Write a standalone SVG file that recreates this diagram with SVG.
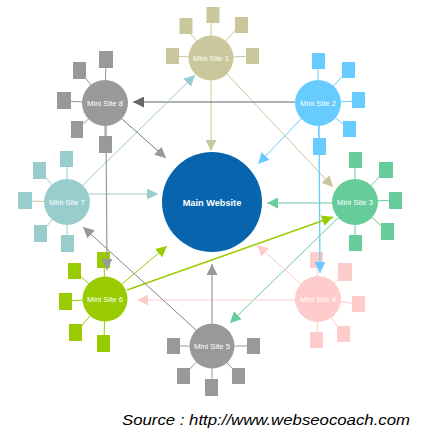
<svg xmlns="http://www.w3.org/2000/svg" width="428" height="431" viewBox="0 0 428 431">
<defs>
<style>
text{font-family:"Liberation Sans",Arial,sans-serif;fill:#fff;stroke:none;text-anchor:middle}
.lbl{font-size:7.7px}
.main{font-size:9.2px;font-weight:bold}
.src{font-size:15px;font-style:italic;fill:#000;text-anchor:start}
.c{fill:none;stroke-width:1}
.s1{fill:#c9c79b;stroke:#c9c79b}
.s2{fill:#66ccff;stroke:#66ccff}
.s3{fill:#66cc99;stroke:#66cc99}
.s4{fill:#ffcccc;stroke:#ffcccc}
.s5{fill:#999;stroke:#999}
.s6{fill:#99cc00;stroke:#99cc00}
.s7{fill:#99cccc;stroke:#99cccc}
.s8{fill:#999;stroke:#999}
.sat{stroke:none}
</style>
<marker id="m1" viewBox="0 0 10 10" refX="10" refY="5" markerWidth="11" markerHeight="11" markerUnits="userSpaceOnUse" orient="auto"><path d="M0,0 L10,5 L0,10 z" fill="#c9c79b"/></marker>
<marker id="m2" viewBox="0 0 10 10" refX="10" refY="5" markerWidth="11" markerHeight="11" markerUnits="userSpaceOnUse" orient="auto"><path d="M0,0 L10,5 L0,10 z" fill="#66ccff"/></marker>
<marker id="m3" viewBox="0 0 10 10" refX="10" refY="5" markerWidth="11" markerHeight="11" markerUnits="userSpaceOnUse" orient="auto"><path d="M0,0 L10,5 L0,10 z" fill="#66cc99"/></marker>
<marker id="m4" viewBox="0 0 10 10" refX="10" refY="5" markerWidth="11" markerHeight="11" markerUnits="userSpaceOnUse" orient="auto"><path d="M0,0 L10,5 L0,10 z" fill="#ffcccc"/></marker>
<marker id="m5" viewBox="0 0 10 10" refX="10" refY="5" markerWidth="11" markerHeight="11" markerUnits="userSpaceOnUse" orient="auto"><path d="M0,0 L10,5 L0,10 z" fill="#999"/></marker>
<marker id="m6" viewBox="0 0 10 10" refX="10" refY="5" markerWidth="11" markerHeight="11" markerUnits="userSpaceOnUse" orient="auto"><path d="M0,0 L10,5 L0,10 z" fill="#99cc00"/></marker>
<marker id="m7" viewBox="0 0 10 10" refX="10" refY="5" markerWidth="11" markerHeight="11" markerUnits="userSpaceOnUse" orient="auto"><path d="M0,0 L10,5 L0,10 z" fill="#99cccc"/></marker>
<marker id="m8" viewBox="0 0 10 10" refX="10" refY="5" markerWidth="11" markerHeight="11" markerUnits="userSpaceOnUse" orient="auto"><path d="M0,0 L10,5 L0,10 z" fill="#666"/></marker>
</defs>
<rect width="428" height="431" fill="#fff"/>

<g id="main-website">
<circle cx="212" cy="202" r="50" fill="#0865ad"/>
<text class="main" x="212" y="205.5">Main Website</text>
</g>

<g id="mini-site-1" class="s1" transform="translate(211,58)">
<path d="M0,0 L0,-43 M0,0 L-27,-32 M0,0 L28,-32 M0,0 L-39,-2 M0,0 L41,-2" stroke-width="1"/>
<rect class="sat" x="-4.5" y="-51" width="13" height="16"/>
<rect class="sat" x="-31.5" y="-40" width="13" height="16"/>
<rect class="sat" x="24" y="-41" width="13" height="16"/>
<rect class="sat" x="-45" y="-10" width="13" height="16"/>
<rect class="sat" x="35" y="-10" width="13" height="16"/>
<circle r="22.5" stroke="none"/>
<text class="lbl" x="0" y="2.8">Mini Site 1</text>
</g>

<g id="mini-site-2" class="s2" transform="translate(318,103)">
<path d="M0,0 L0,-42 M0,0 L30,-33 M0,0 L40,-2 M0,0 L31,26 M0,0 L1,43" stroke-width="1"/>
<rect class="sat" x="-6" y="-50" width="13" height="16"/>
<rect class="sat" x="24" y="-41" width="13" height="16"/>
<rect class="sat" x="34" y="-11" width="13" height="16"/>
<rect class="sat" x="25" y="18" width="13" height="16"/>
<rect class="sat" x="-5" y="35" width="13" height="17"/>
<circle r="23" stroke="none"/>
<text class="lbl" x="0" y="2.8">Mini Site 2</text>
</g>

<g id="mini-site-3" class="s3" transform="translate(355,202)">
<path d="M0,0 L0,-42 M0,0 L31,-32 M0,0 L40,-2 M0,0 L32,29 M0,0 L0,41" stroke-width="1"/>
<rect class="sat" x="-6" y="-50" width="13" height="16"/>
<rect class="sat" x="24" y="-40" width="14" height="16"/>
<rect class="sat" x="34" y="-10" width="13" height="17"/>
<rect class="sat" x="26" y="21" width="13" height="17"/>
<rect class="sat" x="-6" y="33" width="13" height="16"/>
<circle r="23" stroke="none"/>
<text class="lbl" x="0" y="2.8">Mini Site 3</text>
</g>

<g id="mini-site-4" class="s4" transform="translate(318,299)">
<path d="M0,0 L-1,-39 M0,0 L27,-27 M0,0 L40,5 M0,0 L25,35 M0,0 L-1,41" stroke-width="1"/>
<rect class="sat" x="-8" y="-47" width="13" height="16"/>
<rect class="sat" x="20" y="-36" width="14" height="18"/>
<rect class="sat" x="34" y="-3" width="13" height="16"/>
<rect class="sat" x="19" y="27" width="13" height="16"/>
<rect class="sat" x="-8" y="33" width="13" height="16"/>
<circle r="23" stroke="none"/>
<text class="lbl" x="0" y="2.8">Mini Site 4</text>
</g>

<g id="mini-site-5" class="s5" transform="translate(212,346)">
<path d="M0,0 L-39,0 M0,0 L41,0 M0,0 L-29,30 M0,0 L0,41 M0,0 L27,30" stroke-width="1"/>
<rect class="sat" x="-45" y="-8" width="13" height="16"/>
<rect class="sat" x="35" y="-8" width="13" height="16"/>
<rect class="sat" x="-35" y="22" width="13" height="16"/>
<rect class="sat" x="-7" y="33" width="13" height="17"/>
<rect class="sat" x="20" y="22" width="13" height="16"/>
<circle r="22.5" stroke="none"/>
<text class="lbl" x="0" y="2.8">Mini Site 5</text>
</g>

<g id="mini-site-6" class="s6" transform="translate(105,299)">
<path d="M0,0 L-1,-39 M0,0 L-30,-28 M0,0 L-39,2 M0,0 L-29,33 M0,0 L-1,44" stroke-width="1"/>
<rect class="sat" x="-8" y="-47" width="13" height="16"/>
<rect class="sat" x="-37" y="-36" width="13" height="16"/>
<rect class="sat" x="-46" y="-6" width="13" height="17"/>
<rect class="sat" x="-36" y="25" width="13" height="17"/>
<rect class="sat" x="-8" y="36" width="13" height="17"/>
<circle r="22.5" stroke="none"/>
<text class="lbl" x="0" y="2.8">Mini Site 6</text>
</g>

<g id="mini-site-7" class="s7" transform="translate(67,202)">
<path d="M0,0 L0,-43 M0,0 L-27,-31 M0,0 L-26,31 M0,0 L0,41" stroke-width="1"/>
<path d="M0,0 L-42,-1" stroke="#c9c79b" stroke-width="1"/>
<rect class="sat" x="-7" y="-51" width="13" height="16"/>
<rect class="sat" x="-34" y="-40" width="13" height="17"/>
<rect class="sat" x="-49" y="-10" width="14" height="17"/>
<rect class="sat" x="-33" y="23" width="13" height="17"/>
<rect class="sat" x="-6" y="33" width="13" height="17"/>
<circle r="23" stroke="none"/>
<text class="lbl" x="0" y="2.8">Mini Site 7</text>
</g>

<g id="mini-site-8" class="s8" transform="translate(105,103)">
<path d="M0,0 L1,-43 M0,0 L-25,-32 M0,0 L-41,-2 M0,0 L-28,27 M0,0 L0,41" stroke-width="1"/>
<rect class="sat" x="-6" y="-52" width="14" height="17"/>
<rect class="sat" x="-32" y="-41" width="13" height="17"/>
<rect class="sat" x="-48" y="-11" width="14" height="17"/>
<rect class="sat" x="-34" y="18" width="12" height="17"/>
<rect class="sat" x="-6" y="33" width="13" height="17"/>
<circle r="23" stroke="none"/>
<text class="lbl" x="0" y="2.8">Mini Site 8</text>
</g>

<g id="connectors" class="c">
<line x1="211" y1="81" x2="211" y2="151" stroke="#c9c79b" marker-end="url(#m1)"/>
<line x1="227" y1="74" x2="333" y2="187" stroke="#c9c79b" marker-end="url(#m1)"/>
<line x1="295" y1="102" x2="133" y2="102" stroke="#666" stroke-width="1.2" marker-end="url(#m8)"/>
<line x1="301" y1="119" x2="258" y2="164" stroke="#66ccff" marker-end="url(#m2)"/>
<line x1="319" y1="126" x2="320" y2="273" stroke="#66ccff" stroke-width="1.3" marker-end="url(#m2)"/>
<line x1="332" y1="203" x2="267" y2="203" stroke="#66cc99" marker-end="url(#m3)"/>
<line x1="338" y1="218" x2="230" y2="323" stroke="#66cc99" marker-end="url(#m3)"/>
<line x1="127" y1="290" x2="333" y2="217" stroke="#99cc00" stroke-width="1.4" marker-end="url(#m6)"/>
<line x1="122" y1="284" x2="167" y2="246" stroke="#99cc00" marker-end="url(#m6)"/>
<line x1="301" y1="284" x2="257" y2="245" stroke="#ffcccc" marker-end="url(#m4)"/>
<line x1="295" y1="300" x2="137" y2="300" stroke="#ffcccc" stroke-width="1.2" marker-end="url(#m4)"/>
<line x1="212" y1="323" x2="212" y2="264" stroke="#999" stroke-width="1.2" marker-end="url(#m5)"/>
<line x1="196" y1="330" x2="83" y2="227" stroke="#888" marker-end="url(#m5)"/>
<line x1="89" y1="194" x2="158" y2="194" stroke="#99cccc" marker-end="url(#m7)"/>
<line x1="83" y1="185" x2="195" y2="75" stroke="#99cccc" marker-end="url(#m7)"/>
<line x1="122" y1="119" x2="166" y2="158" stroke="#777" marker-end="url(#m5)"/>
<line x1="106" y1="126" x2="107" y2="270" stroke="#999" stroke-width="1.2" marker-end="url(#m5)"/>
</g>

<text class="src" x="122" y="425" textLength="288" lengthAdjust="spacingAndGlyphs">Source : http://www.webseocoach.com</text>
</svg>
